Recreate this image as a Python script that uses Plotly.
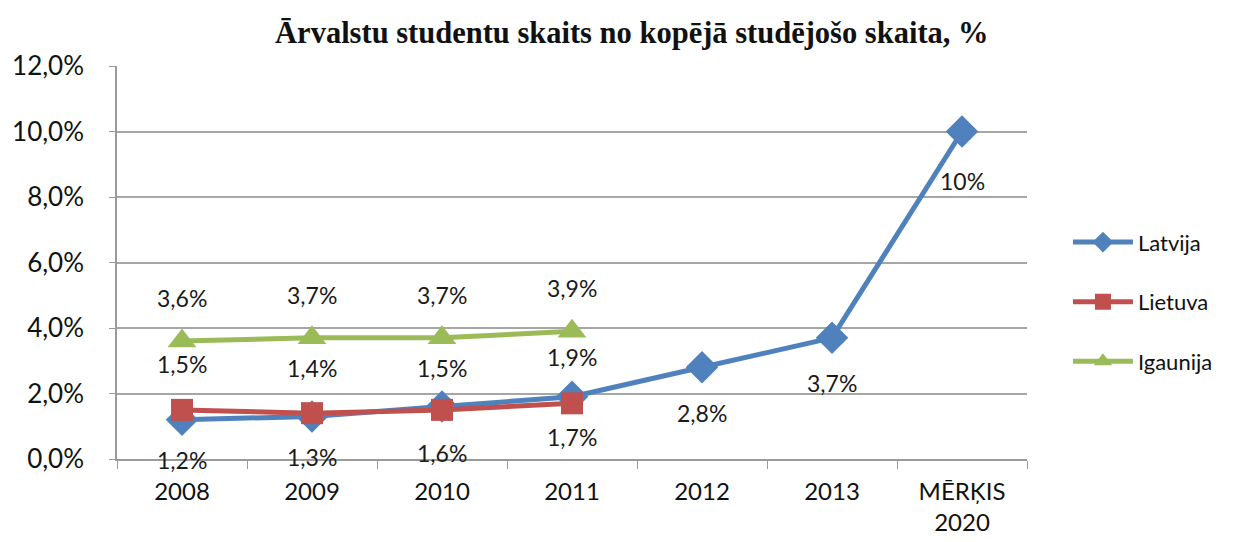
import plotly.graph_objects as go

categories = ["2008", "2009", "2010", "2011", "2012", "2013", "MĒRĶIS<br>2020"]
latvija = [1.2, 1.3, 1.6, 1.9, 2.8, 3.7, 10.0]
lietuva = [1.5, 1.4, 1.5, 1.7]
igaunija = [3.6, 3.7, 3.7, 3.9]
latvija_labels = ["1,2%", "1,3%", "1,6%", "1,9%", "2,8%", "3,7%", "10%"]
lietuva_labels = ["1,5%", "1,4%", "1,5%", "1,7%"]
igaunija_labels = ["3,6%", "3,7%", "3,7%", "3,9%"]
y_ticks = [0, 2, 4, 6, 8, 10, 12]
y_ticktext = ["0,0%", "2,0%", "4,0%", "6,0%", "8,0%", "10,0%", "12,0%"]

BLUE = "#4F81BD"
RED = "#C0504D"
GREEN = "#9BBB59"
FONT = "Lato"

fig = go.Figure()

fig.add_trace(go.Scatter(
    x=categories, y=latvija, name="Latvija", mode="lines+markers",
    line=dict(color=BLUE, width=5),
    marker=dict(symbol="diamond", size=25, color=BLUE),
    legendgroup="a",
))
fig.add_trace(go.Scatter(
    x=categories[:4], y=lietuva, name="Lietuva", mode="lines+markers",
    line=dict(color=RED, width=5),
    marker=dict(symbol="square", size=22, color=RED),
    legendgroup="b",
))
fig.add_trace(go.Scatter(
    x=categories[:4], y=igaunija, name="Igaunija", mode="lines+markers",
    line=dict(color=GREEN, width=5),
    marker=dict(symbol="triangle-up", size=25, color=GREEN),
    legendgroup="c",
))

# data labels, placed relative to their points (x as category index)
label_font = dict(family=FONT, size=23, color="#1a1a1a")
lat_shift = [-40, -41, -46, 40, -46, -45, -49]
for i, (y, t, s) in enumerate(zip(latvija, latvija_labels, lat_shift)):
    fig.add_annotation(x=i, y=y, text=t, showarrow=False, yshift=s, font=label_font)
lie_shift = [46, 45, 42, -34]
for i, (y, t, s) in enumerate(zip(lietuva, lietuva_labels, lie_shift)):
    fig.add_annotation(x=i, y=y, text=t, showarrow=False, yshift=s, font=label_font)
for i, (y, t) in enumerate(zip(igaunija, igaunija_labels)):
    fig.add_annotation(x=i, y=y, text=t, showarrow=False, yshift=43, font=label_font)

fig.update_layout(
    width=1228, height=534,
    margin=dict(l=109, r=209, t=58, b=83),
    paper_bgcolor="white", plot_bgcolor="white",
    title=dict(
        text="<b>Ārvalstu studentu skaits no kopējā studējošo skaita, %</b>",
        x=0.508, xanchor="center", y=0.955, yanchor="middle",
        font=dict(family="Liberation Serif", size=30.5, color="#111"),
    ),
    legend=dict(
        x=1.045, xanchor="left", y=0.40, yanchor="middle",
        font=dict(family=FONT, size=22, color="#111"),
        tracegroupgap=28, itemwidth=60,
    ),
    xaxis=dict(
        type="category", range=[-0.5, 6.5], automargin=False,
        showline=True, linecolor="#9a9a9a", linewidth=1.5,
        ticks="outside", tickson="boundaries", ticklen=8, tickcolor="#9a9a9a",
        showgrid=False,
        tickfont=dict(family=FONT, size=24, color="#111"),
        ticklabelstandoff=10,
    ),
    yaxis=dict(
        range=[0, 12], tickvals=y_ticks, ticktext=y_ticktext, automargin=False,
        showline=True, linecolor="#9a9a9a", linewidth=1.5,
        ticks="outside", ticklen=6, tickcolor="#9a9a9a",
        showgrid=True, gridcolor="#a6a6a6", gridwidth=1.5,
        zeroline=False,
        tickfont=dict(family=FONT, size=26, color="#111"),
        ticklabelstandoff=20,
    ),
)

fig.write_html("out.html")
